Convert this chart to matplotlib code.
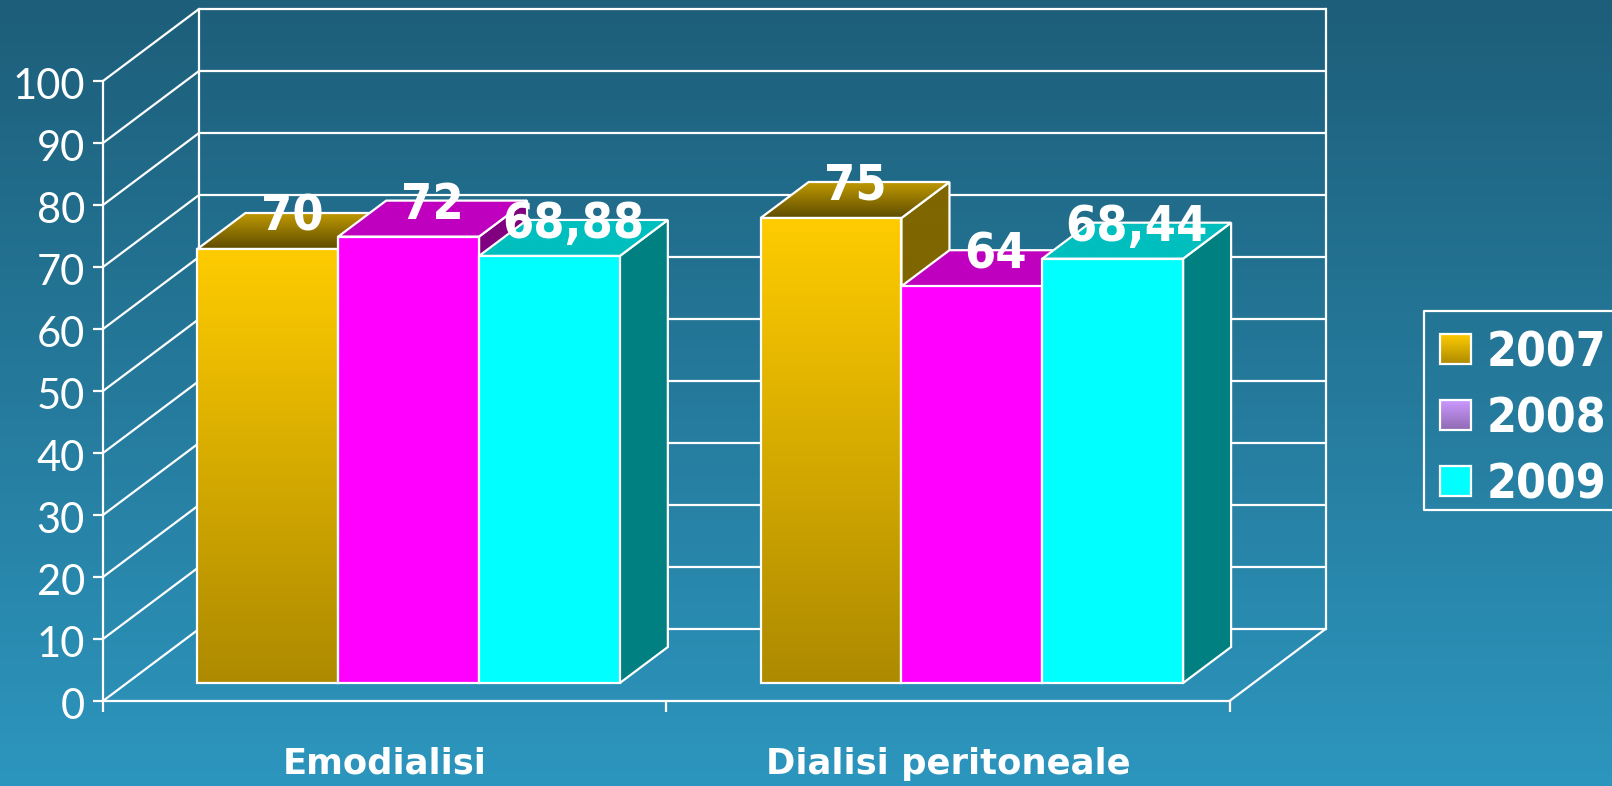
import numpy as np
import matplotlib
matplotlib.use("Agg")
from matplotlib import pyplot as plt
from matplotlib.patches import Polygon
from matplotlib.transforms import ScaledTranslation

categories = ['Emodialisi', 'Dialisi peritoneale']
years = ['2007', '2008', '2009']
values_2007 = [70, 75]
values_2008 = [72, 64]
values_2009 = [68.88, 68.44]
labels_2007 = ['70', '75']
labels_2008 = ['72', '64']
labels_2009 = ['68,88', '68,44']
y_ticks = list(range(0, 101, 10))

W, H = 1612, 786
LINE = 1.6
BOLD = dict(family='DejaVu Sans', stretch='condensed', weight='bold', color='white')

# (front top, front bottom, top back, top front, side)
gold = ('#FFCC00', '#AD8A00', '#BF9900', '#5E4C00', '#7F6600')
magenta = ('#FF00FF', '#FF00FF', '#BF00BF', '#BF00BF', '#800080')
cyan = ('#00FFFF', '#00FFFF', '#00BFBF', '#00BFBF', '#008080')

left, right, y_zero, y_hundred = 103, 1229.5, 701, 81
DX = 96 / (right - left) * 2
DY = 72 / (y_zero - y_hundred) * 100


def project(x, v, d):
    return (x + d * DX, v + d * DY)


def gradient(ax, pts, c_top, c_bottom, z):
    xs, ys = zip(*pts)
    ramp = np.linspace(0, 1, 256)[:, None, None]
    top = np.array(matplotlib.colors.to_rgb(c_top))
    bottom = np.array(matplotlib.colors.to_rgb(c_bottom))
    im = ax.imshow(top * (1 - ramp) + bottom * ramp, aspect='auto', zorder=z,
                   extent=(min(xs), max(xs), min(ys), max(ys)), origin='upper')
    im.set_clip_path(Polygon(pts, transform=ax.transData))
    ax.add_patch(Polygon(pts, closed=True, fc='none', ec='white', lw=LINE, zorder=z + 0.5,
                         clip_on=False, joinstyle='miter'))


def bar3d(ax, x0, x1, v, colors, z):
    c_top, c_bot, c_back, c_front, c_side = colors
    d0, d1 = 0.25, 0.75
    side = [project(x1, 0, d0), project(x1, 0, d1), project(x1, v, d1), project(x1, v, d0)]
    top = [project(x0, v, d0), project(x1, v, d0), project(x1, v, d1), project(x0, v, d1)]
    front = [project(x0, 0, d0), project(x1, 0, d0), project(x1, v, d0), project(x0, v, d0)]
    gradient(ax, side, c_side, c_side, z)
    gradient(ax, top, c_back, c_front, z + 1)
    gradient(ax, front, c_top, c_bot, z + 2)


fig = plt.figure(figsize=(W / 100, H / 100), dpi=100)

# background and legend live in a pixel axes
bg = fig.add_axes([0, 0, 1, 1], zorder=0)
ramp = np.linspace(0, 1, 256)[:, None, None]
bg.imshow(np.array([0.114, 0.369, 0.478]) * (1 - ramp) + np.array([0.176, 0.588, 0.745]) * ramp,
          extent=(0, W, H, 0), aspect='auto')
bg.set_xlim(0, W)
bg.set_ylim(H, 0)
bg.axis('off')

ax = fig.add_axes([left / W, 1 - y_zero / H, (right - left) / W, (y_zero - y_hundred) / H], zorder=1)
ax.patch.set_visible(False)
ax.set_xlim(0, 2)
ax.set_ylim(0, 100)

# walls and floor
for t in y_ticks:
    bx, by = project(2, t, 1)
    ax.plot([0, DX, bx], [t, t + DY, by], color='white', lw=LINE, clip_on=False, zorder=1)
for x in (0, 2):
    ax.plot([x + DX, x + DX], [DY, 100 + DY], color='white', lw=LINE, clip_on=False, zorder=1)
ax.plot([2, 2 + DX], [0, DY], color='white', lw=LINE, clip_on=False, zorder=1)

series = [(values_2007, labels_2007, gold), (values_2008, labels_2008, magenta), (values_2009, labels_2009, cyan)]
z = 3
for c in range(len(categories)):
    for j, (vals, labs, colors) in enumerate(series):
        x0 = c + 0.125 + j * 0.25
        bar3d(ax, x0, x0 + 0.25, vals[c], colors, z)
        z += 4
        lx, ly = project(x0 + 0.125, vals[c], 0.5)
        ax.text(lx, ly, labs[c], ha='center', va='baseline', fontsize=36, zorder=100, **BOLD)

ax.set_xlim(0, 2)
ax.set_ylim(0, 100)

for s in ('top', 'right'):
    ax.spines[s].set_visible(False)
for s in ('left', 'bottom'):
    ax.spines[s].set_color('white')
    ax.spines[s].set_linewidth(LINE)
    ax.spines[s].set_zorder(2)

ax.set_yticks(y_ticks)
ax.set_yticklabels([str(t) for t in y_ticks], family='Lato', fontsize=30, color='white')
ax.tick_params(axis='y', length=7, width=LINE, color='white', pad=6)
nudge = ScaledTranslation(0, -2 / 72, fig.dpi_scale_trans)
for lab in ax.get_yticklabels():
    lab.set_transform(lab.get_transform() + nudge)
ax.set_xticks([0, 1, 2])
ax.set_xticklabels([])
ax.tick_params(axis='x', length=8, width=LINE, color='white')
ax.set_xticks([0.5, 1.5], minor=True)
ax.set_xticklabels(categories, minor=True, family='DejaVu Sans', weight='bold', fontsize=25.5, color='white')
ax.tick_params(axis='x', which='minor', length=0, pad=33)

# legend, runs off the right edge like the original
bg.plot([W + 5, 1424, 1424, W + 5], [311, 311, 510, 510], color='white', lw=LINE, zorder=2)
legend_colors = [('#FFCC00', '#AD8A00'), ('#CC99FF', '#8F6BB3'), ('#00FFFF', '#00FFFF')]
for i, (year, (c1, c2)) in enumerate(zip(years, legend_colors)):
    y0 = 334 + i * 66
    pts = [(1440, y0), (1471, y0), (1471, y0 + 30), (1440, y0 + 30)]
    rmp = np.linspace(0, 1, 64)[:, None, None]
    a, b = np.array(matplotlib.colors.to_rgb(c1)), np.array(matplotlib.colors.to_rgb(c2))
    bg.imshow(a * (1 - rmp) + b * rmp, extent=(1440, 1471, y0 + 30, y0), aspect='auto', zorder=3)
    bg.add_patch(Polygon(pts, closed=True, fc='none', ec='white', lw=LINE, zorder=4))
    bg.text(1487, y0 + 19, year, ha='left', va='center', fontsize=34.5, zorder=4, **BOLD)
bg.set_xlim(0, W)
bg.set_ylim(H, 0)

plt.savefig('out.png', dpi=100)
